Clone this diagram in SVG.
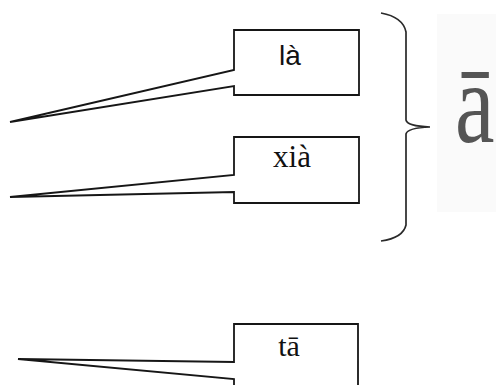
<svg xmlns="http://www.w3.org/2000/svg" width="496" height="385" viewBox="0 0 496 385">
<style>
.co{fill:#fff;stroke:#161616;stroke-width:1.8;stroke-linejoin:miter}
.br{fill:none;stroke:#2a2a2a;stroke-width:1.7}
.sans{font-family:"Liberation Sans",Arial,sans-serif;fill:#111}
.serif{font-family:"Liberation Serif","Times New Roman",serif;fill:#111}
</style>
<rect width="496" height="385" fill="#fff"/>
<rect x="437" y="14" width="59" height="198" fill="#fafafa"/>
<g id="connectors">
<path class="br" d="M381,13 Q403,17 406,32 V120 Q407,126 430,127 Q407,128 406,134 V225 Q403,238 381,241"/>
</g>
<g id="node-la">
<path class="co" d="M234,30 H359 V95 H234 V86 L10,122 L234,70 Z"/>
<text class="sans" x="290" y="65" font-size="28" text-anchor="middle">là</text>
</g>
<g id="node-xia">
<path class="co" d="M234,137 H359 V203 H234 V192 L10,197 L234,175 Z"/>
<text class="serif" x="292" y="167" font-size="31" text-anchor="middle">xià</text>
</g>
<g id="node-ta">
<path class="co" d="M234,324 H358 V400 H234 V379 L18,359 L234,362 Z"/>
<text class="serif" x="289" y="356" font-size="30" text-anchor="middle">tā</text>
</g>
<g id="node-a">
<text class="serif" transform="translate(455,142) scale(0.78,1)" x="0" y="0" font-size="114" style="fill:#555">ā</text>
</g>
</svg>
